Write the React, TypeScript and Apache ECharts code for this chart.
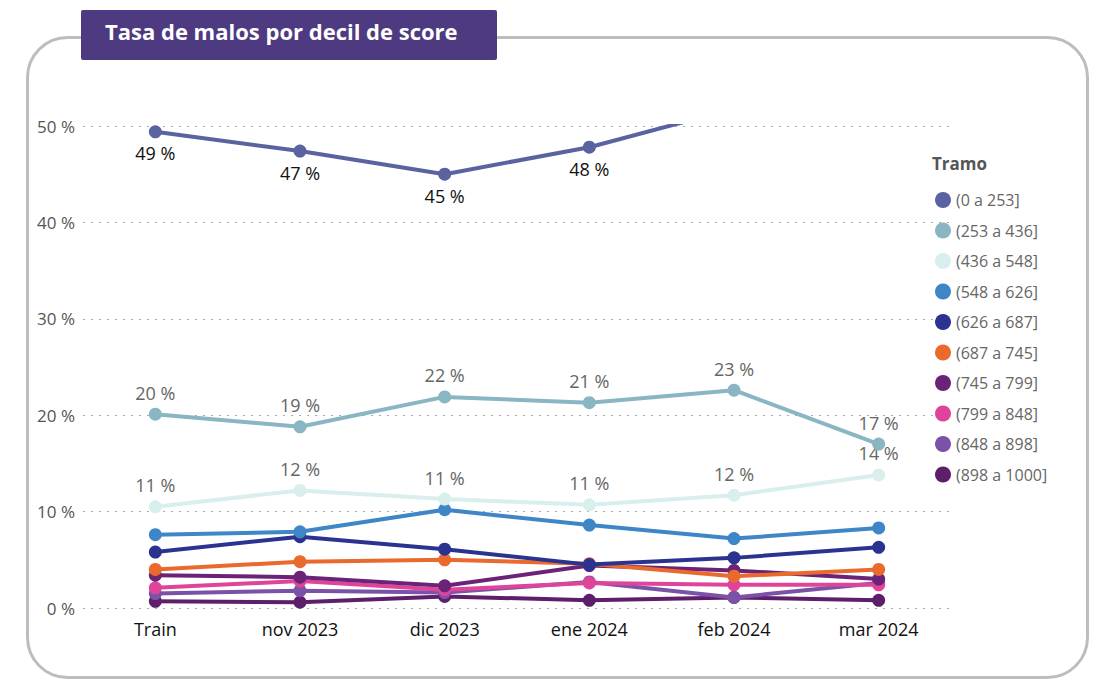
import React, { useEffect, useRef } from "react";
import * as echarts from "echarts";

const categories = ["Train", "nov 2023", "dic 2023", "ene 2024", "feb 2024", "mar 2024"];
const tramos = ["(0 a 253]", "(253 a 436]", "(436 a 548]", "(548 a 626]", "(626 a 687]", "(687 a 745]", "(745 a 799]", "(799 a 848]", "(848 a 898]", "(898 a 1000]"];
const colors = ["#5a62a0", "#8ab6c4", "#d9efee", "#3f86c8", "#2b3390", "#ea6a2e", "#6b2377", "#e0449a", "#7a52a8", "#5e1f6a"];
const values = [
  [49.4, 47.4, 45.0, 47.8, 51.8, 53.6],
  [20.1, 18.8, 21.9, 21.3, 22.6, 17.0],
  [10.5, 12.2, 11.3, 10.7, 11.7, 13.8],
  [7.6, 7.9, 10.2, 8.6, 7.2, 8.3],
  [5.8, 7.4, 6.1, 4.5, 5.2, 6.3],
  [4.0, 4.8, 5.0, 4.6, 3.3, 4.0],
  [3.4, 3.2, 2.3, 4.4, 3.9, 3.0],
  [2.1, 2.8, 1.9, 2.6, 2.4, 2.4],
  [1.5, 1.8, 1.6, 2.7, 1.1, 2.6],
  [0.7, 0.6, 1.2, 0.8, 1.1, 0.8],
];

const App: React.FC = () => {
  const chartRef = useRef<HTMLDivElement>(null);

  useEffect(() => {
    if (!chartRef.current) return;
    const chart = echarts.init(chartRef.current, null, { renderer: "svg" });

    const series: any[] = tramos.map((name, i) => ({
      name,
      type: "line",
      data: values[i],
      symbol: "circle",
      symbolSize: 13,
      z: 20 - i,
      lineStyle: { width: 4, color: colors[i] },
      itemStyle: { color: colors[i] },
      label: {
        show: i < 3,
        position: i === 0 ? "bottom" : "top",
        distance: 6,
        formatter: (p: any) => Math.round(p.value) + " %",
        fontSize: 18,
        color: i === 0 ? "#111" : "#666",
        fontFamily: "Open Sans",
      },
    }));

    const option: echarts.EChartsOption = {
      animation: false,
      textStyle: { fontFamily: "Open Sans" },
      graphic: [
        {
          type: "rect",
          left: 18,
          top: 28,
          shape: { width: 1060, height: 640, r: 40 },
          style: { fill: "#fff", stroke: "#bdbdbd", lineWidth: 3 },
          z: -10,
        },
        {
          type: "rect",
          left: 73,
          top: 2,
          shape: { width: 416, height: 50, r: 2 },
          style: { fill: "#4d3a80" },
          z: 10,
        },
        {
          type: "text",
          left: 97,
          top: 12,
          style: { text: "Tasa de malos por decil de score", fill: "#fff", font: "bold 22px 'Open Sans'" },
          z: 11,
        },
        {
          type: "text",
          left: 924,
          top: 147,
          style: { text: "Tramo", fill: "#555", font: "bold 17px 'Open Sans'" },
        },
      ],
      legend: {
        orient: "vertical",
        left: 922,
        top: 179,
        itemGap: 14.5,
        itemWidth: 16,
        itemHeight: 16,
        icon: "circle",
        textStyle: { fontSize: 16, color: "#666" },
        data: tramos,
      },
      grid: { left: 75, right: 146, top: 118, bottom: 81 },
      xAxis: {
        type: "category",
        data: categories,
        boundaryGap: true,
        axisLine: { show: false },
        axisTick: { show: false },
        axisLabel: { fontSize: 18, color: "#111", margin: 12 },
      },
      yAxis: {
        type: "value",
        min: 0,
        max: 50,
        interval: 10,
        axisLabel: { fontSize: 17, color: "#555", formatter: (v: number) => v + " %" },
        splitLine: { lineStyle: { type: [2, 6] as any, color: "#aaa", width: 1.2 } },
      },
      series,
    };
    chart.setOption(option);
    return () => chart.dispose();
  }, []);

  return <div ref={chartRef} style={{ width: 1089, height: 681 }} />;
};

export default App;
